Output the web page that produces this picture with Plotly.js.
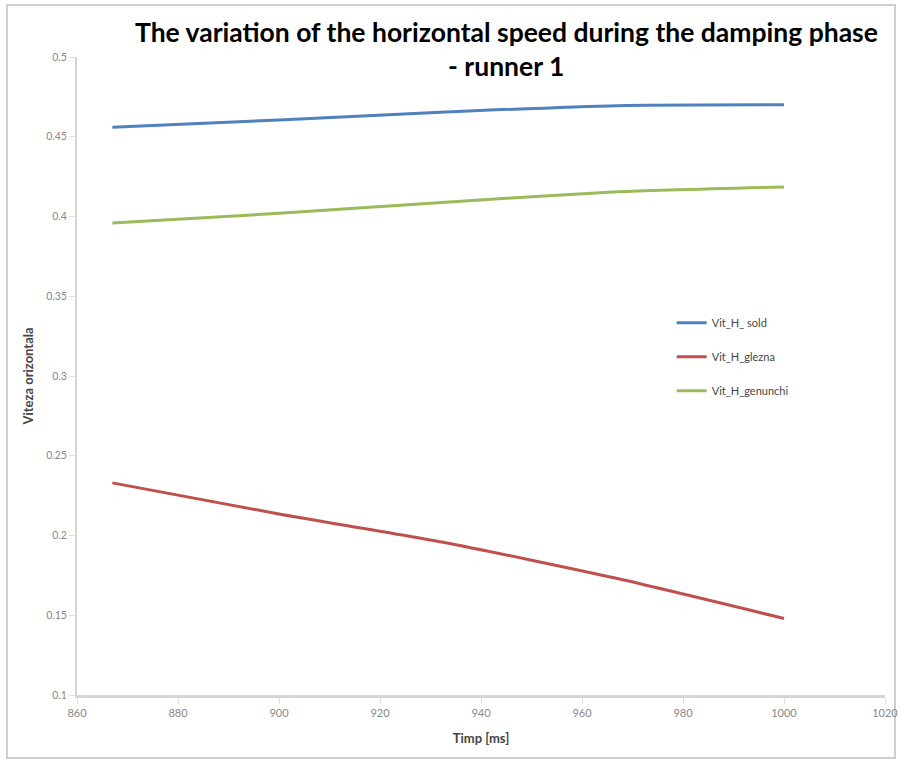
<!DOCTYPE html>
<html>
<head>
<meta charset="utf-8">
<script src="https://cdn.plot.ly/plotly-3.0.1.min.js"></script>
<style>html,body{margin:0;padding:0;background:#fff;}#chart{width:900px;height:765px;}</style>
</head>
<body>
<div id="chart"></div>
<script>
var timp = [867, 900, 933, 967, 1000];
var vitSold = [0.456, 0.4605, 0.4655, 0.4695, 0.4700];
var vitGlezna = [0.233, 0.2135, 0.1955, 0.173, 0.148];
var vitGenunchi = [0.396, 0.402, 0.409, 0.4155, 0.4185];
var seriesNames = ['Vit_H_ sold', 'Vit_H_glezna', 'Vit_H_genunchi'];
var xTicks = [860, 880, 900, 920, 940, 960, 980, 1000, 1020];
var yTicks = [0.1, 0.15, 0.2, 0.25, 0.3, 0.35, 0.4, 0.45, 0.5];
var titleLines = ['The variation of the horizontal speed during the damping phase', '- runner 1'];

var colors = ['#4F81BD', '#C0504D', '#9BBB59'];
var ys = [vitSold, vitGlezna, vitGenunchi];
var traces = ys.map(function (y, i) {
  return {
    x: timp, y: y, type: 'scatter', mode: 'lines', name: seriesNames[i],
    legendgroup: 'g' + i,
    line: {color: colors[i], width: 3, shape: 'spline', smoothing: 0.6}
  };
});

var titleFont = {family: 'Lato, "Open Sans", sans-serif', size: 26.5, color: '#000'};

var layout = {
  width: 900, height: 765,
  margin: {l: 77, r: 15, t: 57, b: 70},
  paper_bgcolor: '#fff', plot_bgcolor: '#fff',
  font: {family: 'Lato, "Liberation Sans", sans-serif', color: '#555'},
  xaxis: {
    range: [860, 1020], tickvals: xTicks, ticktext: xTicks.map(String),
    showgrid: false, zeroline: false,
    showline: true, linecolor: '#d4d4d4', linewidth: 3,
    ticks: 'outside', ticklen: 6, tickcolor: '#e0e0e0',
    tickfont: {size: 11, color: '#888'},
    title: {text: '<b>Timp [ms]</b>', font: {size: 13, color: '#444'}, standoff: 16}
  },
  yaxis: {
    range: [0.1, 0.5], tickvals: yTicks, ticktext: yTicks.map(String),
    showgrid: false, zeroline: false,
    showline: true, linecolor: '#d4d4d4', linewidth: 2,
    ticks: 'outside', ticklen: 6, tickcolor: '#e0e0e0',
    tickfont: {size: 10.5, color: '#888'},
    title: {text: '<b>Viteza orizontala</b>', font: {size: 13, color: '#444'}, standoff: 10}
  },
  legend: {
    x: 0.736, y: 0.606, xanchor: 'left', yanchor: 'top',
    traceorder: 'grouped', tracegroupgap: 15,
    font: {size: 11, color: '#444'}, bgcolor: 'rgba(0,0,0,0)'
  },
  showlegend: true,
  annotations: [
    {text: '<b>' + titleLines[0] + '</b>', xref: 'paper', yref: 'paper',
     x: (506 - 77) / 808, y: 1 + (57 - 32) / 638, xanchor: 'center', yanchor: 'middle',
     showarrow: false, font: titleFont},
    {text: '<b>' + titleLines[1] + '</b>', xref: 'paper', yref: 'paper',
     x: (506 - 77) / 808, y: 1 + (57 - 66) / 638, xanchor: 'center', yanchor: 'middle',
     showarrow: false, font: titleFont}
  ],
  shapes: [{
    type: 'rect', xref: 'paper', yref: 'paper',
    x0: -70 / 808, x1: 1 + 10 / 808, y0: -63 / 638, y1: 1 + 52 / 638,
    line: {color: '#cfcfcf', width: 2}, fillcolor: 'rgba(0,0,0,0)', layer: 'below'
  }]
};

Plotly.newPlot('chart', traces, layout, {displayModeBar: false, staticPlot: true});
</script>
</body>
</html>
